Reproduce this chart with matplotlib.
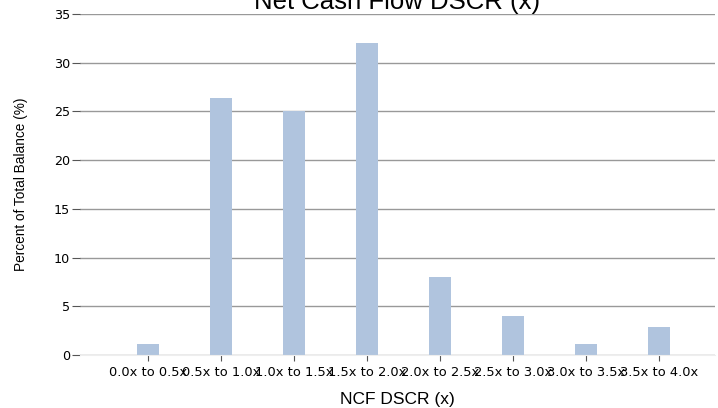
import matplotlib.pyplot as plt
import numpy as np

categories = ['0.0x to 0.5x', '0.5x to 1.0x', '1.0x to 1.5x', '1.5x to 2.0x',
              '2.0x to 2.5x', '2.5x to 3.0x', '3.0x to 3.5x', '3.5x to 4.0x']
values = [1.1, 26.4, 25.0, 32.0, 8.0, 4.0, 1.1, 2.9]

fig = plt.figure(figsize=(7.18, 4.08), dpi=100)
ax = fig.add_axes([80/718, 1 - 355/408, 635/718, 341/408])

x = np.arange(len(categories))
ax.bar(x, values, width=0.3, color='#b0c4de', zorder=2)

ax.set_xlim(-0.93, 7.77)
ax.set_ylim(0, 35)
ax.set_yticks(range(0, 36, 5))
ax.set_xticks(x)
ax.set_xticklabels(categories, fontsize=9.4, family='DejaVu Sans')
ax.tick_params(axis='y', labelsize=9.2, length=6, pad=1, color='#555555', width=0.8)
ax.tick_params(axis='x', length=4, pad=4, color='#555555', width=0.8)
for lbl in ax.get_yticklabels():
    lbl.set_family('DejaVu Sans')

ax.yaxis.grid(True, color='#999999', linewidth=1, zorder=0)
for s in ['top', 'right', 'left']:
    ax.spines[s].set_visible(False)
ax.spines['bottom'].set_color('#eeeeee')

ax.set_title('Net Cash Flow DSCR (x)', fontsize=18.5, family='Liberation Sans', pad=3)
ax.set_xlabel('NCF DSCR (x)', fontsize=12.5, family='Liberation Sans', labelpad=9)
ax.set_ylabel('Percent of Total Balance (%)', fontsize=9.8, family='Liberation Sans', labelpad=19)

fig.savefig('out.png', dpi=100)
